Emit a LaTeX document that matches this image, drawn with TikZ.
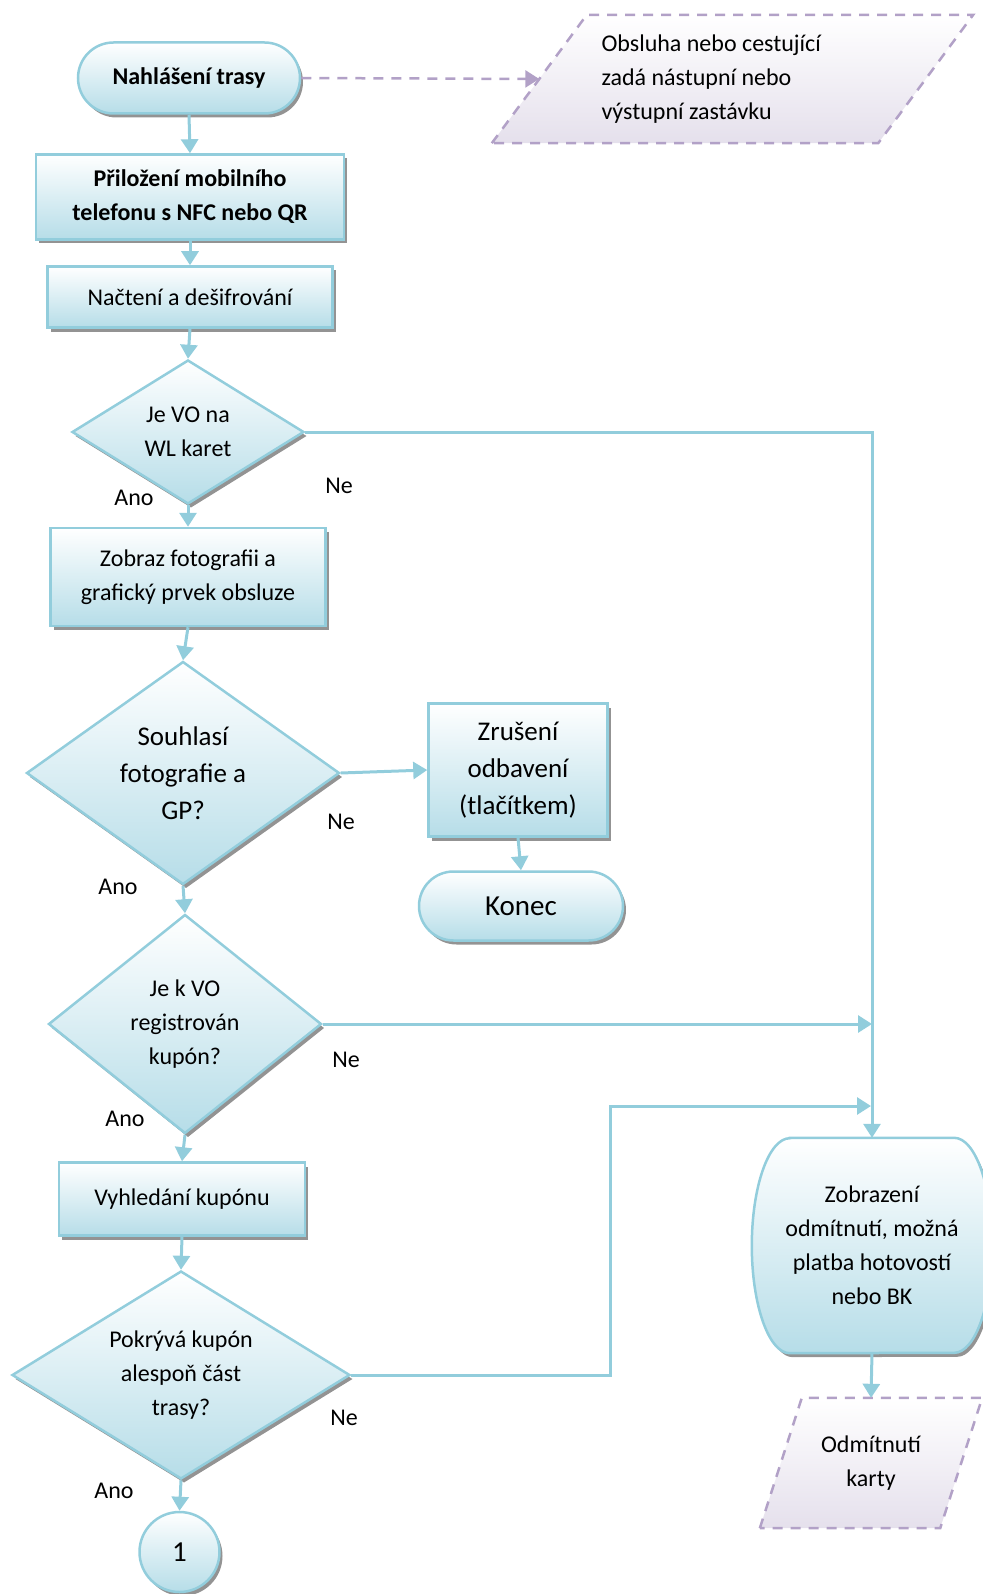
\documentclass[tikz,border=0pt]{standalone}
\usepackage{fontspec}
\setmainfont{Carlito}
\usetikzlibrary{arrows.meta,positioning,calc,backgrounds,shapes.geometric,shapes.misc,shadows}
\definecolor{aqua}{HTML}{92CDDC}
\definecolor{aquafill}{HTML}{B6DDE8}
\definecolor{lilac}{HTML}{B2A1C7}
\definecolor{lilacfill}{HTML}{E5E0EC}
\definecolor{shade}{HTML}{808080}
\tikzset{
  >={Triangle[length=14pt,width=17pt]},
  every node/.style={font=\fontsize{24}{34}\selectfont,text=black},
  flow/.style={draw=aqua,line width=2.5pt,top color=white,bottom color=aquafill,align=center,inner sep=4pt,
    drop shadow={shadow xshift=3pt,shadow yshift=-4pt,fill=shade,opacity=.85}},
  procbox/.style={flow,rectangle},
  termbox/.style={flow,rounded rectangle},
  decision/.style={flow,diamond,inner sep=0pt},
  joint/.style={flow,circle,inner sep=0pt,minimum size=80pt,font=\fontsize{29}{35}\selectfont},
  iotext/.style={rectangle,inner sep=4pt},
  iobox/.style={draw=lilac,line width=2.5pt,dash pattern=on 10pt off 8pt,top color=white,bottom color=lilacfill},
  barrel/.style={draw=aqua,line width=2.5pt,top color=white,bottom color=aquafill,
    drop shadow={shadow xshift=3pt,shadow yshift=-4pt,fill=shade,opacity=.85}},
  big/.style={font=\fontsize{27}{37}\selectfont},
  arrow/.style={->,line width=3pt,draw=aqua},
  dasharrow/.style={->,line width=2.5pt,draw=lilac,dash pattern=on 10pt off 8pt},
  lbl/.style={inner sep=0pt},
}
\begin{document}
\begin{tikzpicture}[x=1pt,y=-1pt]
\clip (0,0) rectangle (982,1594);

\node[termbox,minimum width=230pt,minimum height=71pt] (start) at (189,78) {\textbf{Nahlášení trasy}};
\node[iotext,minimum width=481pt,minimum height=128pt,text width=262pt,align=flush left] (input) at (732.5,79)
  {Obsluha nebo cestující\\zadá nástupní nebo\\výstupní zastávku};
\node[procbox,minimum width=308pt,minimum height=85pt] (attach) at (190,197) {\textbf{Přiložení mobilního}\\\textbf{telefonu s NFC nebo QR}};
\node[procbox,minimum width=285pt,minimum height=61pt] (read) at (190,297) {Načtení a dešifrování};
\node[decision,aspect=1.61,minimum width=232pt,minimum height=144pt] (wl) at (188,432) {Je VO na\\WL karet};
\node[procbox,minimum width=275pt,minimum height=98pt] (photo) at (188,577) {Zobraz fotografii a\\grafický prvek obsluze};
\node[decision,big,aspect=1.4,minimum width=313pt,minimum height=223pt] (agree) at (183,773) {Souhlasí\\fotografie a\\GP?};
\node[procbox,big,minimum width=179pt,minimum height=133pt] (cancel) at (518,770) {Zrušení\\odbavení\\(tlačítkem)};
\node[termbox,minimum width=212pt,minimum height=69pt,font=\fontsize{29}{35}\selectfont] (stop) at (521,906) {Konec};
\node[decision,aspect=1.25,minimum width=273pt,minimum height=219pt] (coupon) at (185,1024) {Je k VO\\registrován\\kupón?};
\node[procbox,minimum width=246pt,minimum height=73pt] (find) at (182,1199) {Vyhledání kupónu};
\node[decision,aspect=1.62,minimum width=338pt,minimum height=208pt] (cover) at (181,1375) {Pokrývá kupón\\alespoň část\\trasy?};
\node[joint] (one) at (179.5,1552) {1};

\node[rectangle,minimum width=240pt,minimum height=215pt,align=center] (reject) at (872,1245.5)
  {Zobrazení\\odmítnutí, možná\\platba hotovostí\\nebo BK};
\node[iotext,minimum width=222pt,minimum height=130pt,align=center] (refuse) at (871,1463) {Odmítnutí\\karty};

\begin{scope}[on background layer]
\path[iobox] (input.south west) -- ($(input.north west)+(95,0)$) -- (input.north east)
  -- ($(input.south east)+(-95,0)$) -- cycle;
\path[barrel] ($(reject.north west)+(38,0)$) -- ($(reject.north east)+(-38,0)$)
  arc[start angle=90,end angle=-90,x radius=38pt,y radius=107.5pt]
  -- ($(reject.south west)+(38,0)$)
  arc[start angle=270,end angle=90,x radius=38pt,y radius=107.5pt] -- cycle;
\path[iobox] (refuse.south west) -- ($(refuse.north west)+(42,0)$) -- (refuse.north east)
  -- ($(refuse.south east)+(-42,0)$) -- cycle;
\end{scope}

\coordinate (inedge) at ($(input.west)+(47.5,0)$);
\coordinate (bend) at (610,1106);
\coordinate (merge) at (871,1106);

\draw[dasharrow] (start.east) -- (inedge);
\draw[arrow] (start.south) -- (attach.north);
\draw[arrow] (attach.south) -- (read.north);
\draw[arrow] (read.south) -- (wl.north);
\draw[arrow] (wl.south) -- (photo.north);
\draw[arrow] (photo.south) -- (agree.north);
\draw[arrow] (agree.east) -- (cancel.west);
\draw[arrow] (cancel.south) -- (stop.north);
\draw[arrow] (agree.south) -- (coupon.north);
\draw[arrow] (coupon.south) -- (find.north);
\draw[arrow] (find.south) -- (cover.north);
\draw[arrow] (cover.south) -- (one.north);
\draw[arrow] (wl.east) -| (reject.north);
\draw[arrow] (coupon.east) -- (coupon.east -| reject.north);
\draw[arrow] (cover.east) -| (bend) -- (merge);
\draw[arrow] (reject.south) -- (refuse.north);

\node[lbl] (wlyes) at (134,498) {Ano};
\node[lbl] (wlno) at (339,486) {Ne};
\node[lbl] (agreeyes) at (118,887) {Ano};
\node[lbl] (agreeno) at (341,822) {Ne};
\node[lbl] (couponyes) at (125,1119) {Ano};
\node[lbl] (couponno) at (346,1060) {Ne};
\node[lbl] (coveryes) at (114,1491) {Ano};
\node[lbl] (coverno) at (344,1418) {Ne};

\end{tikzpicture}
\end{document}
